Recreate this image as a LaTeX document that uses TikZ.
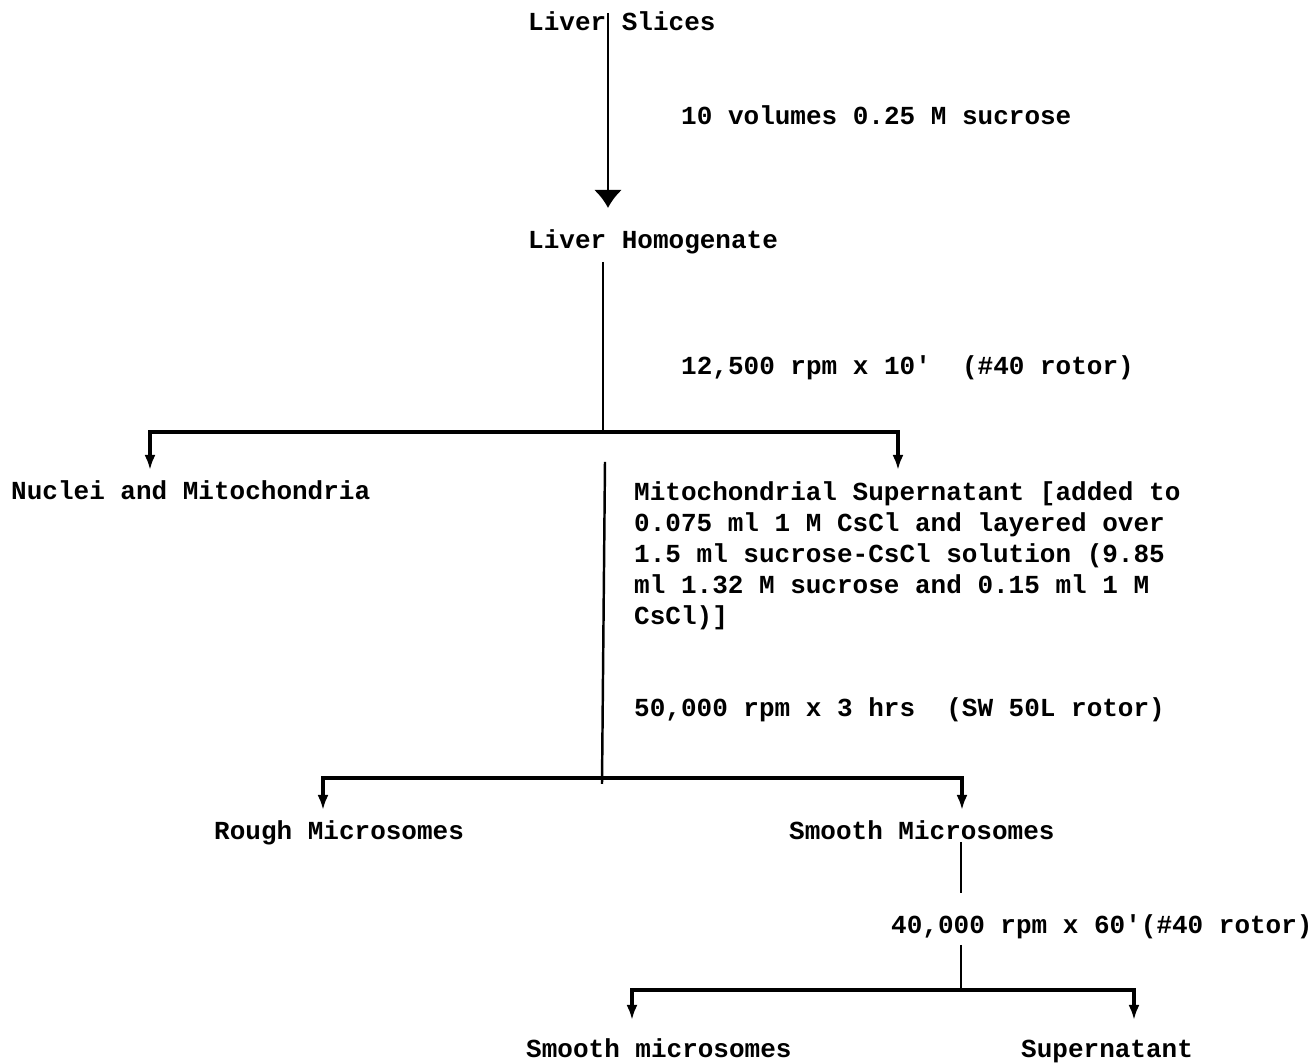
\documentclass[tikz,border=0pt]{standalone}
\usepackage{fontspec}
\setmonofont{Liberation Mono}
\usetikzlibrary{arrows.meta,positioning}

\begin{document}
\begin{tikzpicture}[>={Latex[length=1.5mm,width=1.1mm]},line width=.7pt,
  every node/.style={inner sep=0pt,anchor=base west,font=\ttfamily\bfseries\fontsize{7.4}{8.85}\selectfont},
  branch/.style={line width=1pt},
  bighead/.style={-{Latex[length=1.8mm,width=2.8mm]}}]
  \useasboundingbox (0,0) rectangle (13.12,-10.63);
  \node (slices) at (5.27,-0.305) {Liver Slices};
  \node (vol) at (6.80,-1.245) {10 volumes 0.25 M sucrose};
  \node (homog) at (5.27,-2.485) {Liver Homogenate};
  \node (spinA) at (6.80,-3.745) {12,500 rpm x 10'~~(\#40 rotor)};
  \node (nuclei) at (0.10,-4.995) {Nuclei and Mitochondria};
  \node[anchor=north west,align=left] (mitosup) at (6.33,-4.80)
    {Mitochondrial Supernatant [added to\\0.075 ml 1 M CsCl and layered over\\1.5 ml sucrose-CsCl solution (9.85\\ml 1.32 M sucrose and 0.15 ml 1 M\\CsCl)]};
  \node (spinB) at (6.33,-7.165) {50,000 rpm x 3 hrs~~(SW 50L rotor)};
  \node (rough) at (2.13,-8.395) {Rough Microsomes};
  \node (smooth) at (7.88,-8.395) {Smooth Microsomes};
  \node (spinC) at (8.90,-9.335) {40,000 rpm x 60'(\#40 rotor)};
  \node (smoothmic) at (5.25,-10.575) {Smooth microsomes};
  \node (supern) at (10.20,-10.575) {Supernatant};

  \coordinate (s0) at (6.08,-0.13);
  \coordinate (s1) at (6.08,-2.08);
  \draw[bighead] (s0) -- (s1);

  \coordinate (h0) at (6.03,-2.62);
  \coordinate (h1) at (6.03,-4.32);
  \coordinate (nucArr) at (1.50,-4.70);
  \coordinate (supArr) at (8.98,-4.70);
  \draw (h0) -- (h1);
  \draw[<->,branch] (nucArr) |- (h1) -| (supArr);

  \coordinate (m0) at (6.05,-4.62);
  \coordinate (m1) at (6.02,-7.84);
  \coordinate (m2) at (6.02,-7.78);
  \coordinate (roughArr) at (3.23,-8.10);
  \coordinate (smoothArr) at (9.62,-8.10);
  \draw (m0) -- (m1);
  \draw[<->,branch] (roughArr) |- (m2) -| (smoothArr);

  \coordinate (c0) at (9.61,-8.42);
  \coordinate (c1) at (9.61,-8.93);
  \coordinate (c2) at (9.61,-9.45);
  \coordinate (c3) at (9.61,-9.90);
  \coordinate (micArr) at (6.32,-10.20);
  \coordinate (supnArr) at (11.34,-10.20);
  \draw (c0) -- (c1);
  \draw (c2) -- (c3);
  \draw[<->,branch] (micArr) |- (c3) -| (supnArr);
\end{tikzpicture}
\end{document}
